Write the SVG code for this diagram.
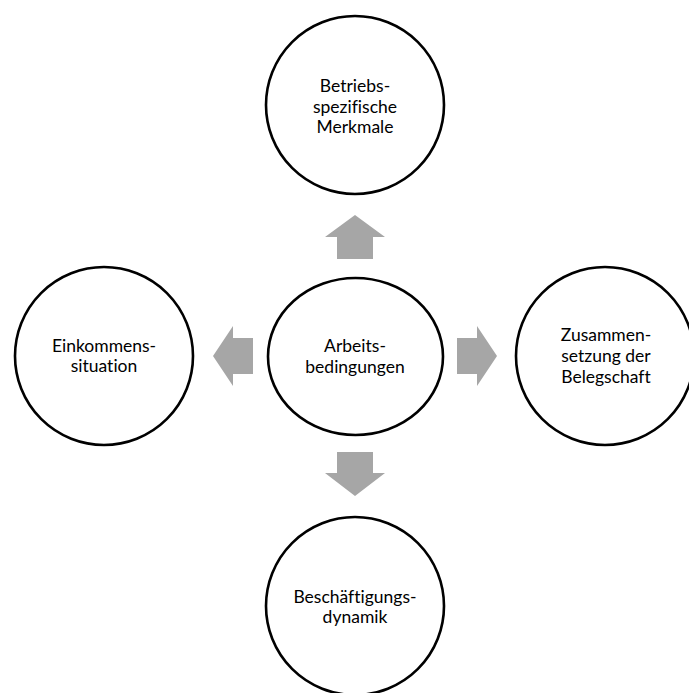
<svg xmlns="http://www.w3.org/2000/svg" width="689" height="693" viewBox="0 0 689 693">
<style>
.node{fill:#ffffff;stroke:#000000;stroke-width:2.6}
.arrow{fill:#a6a6a6;stroke:none}
text{font-family:Lato,"Liberation Sans",Arial,sans-serif;font-size:17.5px;fill:#000000;text-anchor:middle;font-variant-ligatures:none}
</style>
<rect width="689" height="693" fill="#ffffff"/>
<g id="connectors">
<path class="arrow" d="M355,215 L385,237 L373,237 L373,259 L337,259 L337,237 L325,237 Z"/>
<path class="arrow" d="M213,356 L233,326 L233,338 L253,338 L253,374 L233,374 L233,386 Z"/>
<path class="arrow" d="M497,356 L477,326 L477,338 L457,338 L457,374 L477,374 L477,386 Z"/>
<path class="arrow" d="M355,496 L385,473 L373,473 L373,452 L337,452 L337,473 L325,473 Z"/>
</g>
<g id="node-top">
<circle class="node" cx="355" cy="105" r="89"/>
<text x="355" y="92">Betriebs-</text>
<text x="355" y="113">spezifische</text>
<text x="355" y="133">Merkmale</text>
</g>
<g id="node-center">
<ellipse class="node" cx="355.5" cy="356.5" rx="87.5" ry="78.5"/>
<text x="355" y="352">Arbeits-</text>
<text x="355" y="373">bedingungen</text>
</g>
<g id="node-left">
<circle class="node" cx="104" cy="356" r="89"/>
<text x="104" y="352">Einkommens-</text>
<text x="104" y="372">situation</text>
</g>
<g id="node-right">
<circle class="node" cx="605" cy="356" r="89"/>
<text x="606" y="341">Zusammen-</text>
<text x="606" y="362">setzung der</text>
<text x="606" y="383">Belegschaft</text>
</g>
<g id="node-bottom">
<circle class="node" cx="355" cy="606" r="89"/>
<text x="355" y="603">Beschäftigungs-</text>
<text x="355" y="623">dynamik</text>
</g>
</svg>
